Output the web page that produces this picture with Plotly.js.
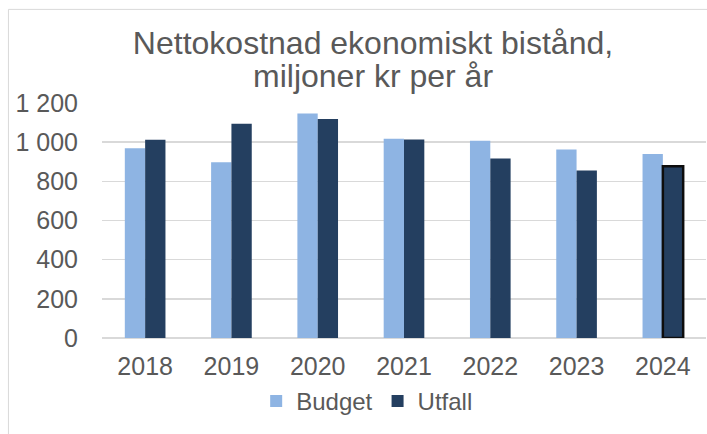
<!DOCTYPE html>
<html>
<head>
<meta charset="utf-8">
<script src="https://cdn.plot.ly/plotly-3.0.1.min.js"></script>
<style>html,body{margin:0;padding:0;background:#fff;}#chart{width:707px;height:434px;}</style>
</head>
<body>
<div id="chart"></div>
<script>
const years = ['2018', '2019', '2020', '2021', '2022', '2023', '2024'];
const budget = [969, 897, 1146, 1017, 1007, 963, 940];
const utfall = [1012, 1094, 1118, 1014, 916, 855, 877];
const seriesNames = ['Budget', 'Utfall'];
const titleLine1 = 'Nettokostnad ekonomiskt bistånd,';
const titleLine2 = 'miljoner kr per år';

const FONT = '"Liberation Sans", Arial, sans-serif';
const TXT = '#595959';

const lastIdx = years.length - 1;
const utfallLineW = years.map((_, i) => i === lastIdx ? 2.5 : 0);
const utfallLineC = years.map((_, i) => i === lastIdx ? '#0D0D0D' : '#243F60');

const data = [
  {type: 'bar', name: seriesNames[0], x: years, y: budget,
   marker: {color: '#8EB4E3', line: {width: 0}}},
  {type: 'bar', name: seriesNames[1], x: years, y: utfall,
   marker: {color: '#243F60', line: {width: utfallLineW, color: utfallLineC}}}
];

const PL = 102, PW = 603.6, PB = 337.7, PH = 234.7;
const px2x = p => (p - PL) / PW;
const px2y = p => (PB - p) / PH;

const layout = {
  width: 707, height: 434,
  margin: {l: 102, r: 1.4, t: 103, b: 96.3, pad: 0},
  paper_bgcolor: '#fff', plot_bgcolor: '#fff',
  separators: ', ',
  font: {family: FONT, color: TXT, size: 25},
  barmode: 'group', bargap: 0.529, bargroupgap: 0,
  title: {text: titleLine1, font: {family: FONT, size: 32, color: TXT},
          x: 373/707, xanchor: 'center', xref: 'container',
          y: 1 - 43/434, yanchor: 'middle', yref: 'container'},
  annotations: [
    {text: titleLine2, xref: 'paper', yref: 'paper',
     x: px2x(373), y: px2y(76), xanchor: 'center', yanchor: 'middle',
     showarrow: false, font: {family: FONT, size: 32, color: TXT}}
  ],
  shapes: [
    {type: 'rect', xref: 'paper', yref: 'paper',
     x0: px2x(8.5), x1: 1.2, y0: -1, y1: px2y(9.5),
     line: {color: '#D9D9D9', width: 1}, fillcolor: 'rgba(0,0,0,0)', layer: 'below'}
  ],
  xaxis: {type: 'category', showgrid: false, showline: false, zeroline: false,
          ticks: '', ticklabelstandoff: 11,
          tickfont: {family: FONT, size: 25, color: TXT}},
  yaxis: {range: [0, 1200], dtick: 200, tick0: 0, tickformat: ',d',
          showgrid: true, gridcolor: '#D9D9D9', gridwidth: 1.5,
          zeroline: true, zerolinecolor: '#D9D9D9', zerolinewidth: 1.5,
          showline: false, ticks: '', ticklabelstandoff: 23,
          tickfont: {family: FONT, size: 25, color: TXT}},
  showlegend: true,
  legend: {orientation: 'h', x: px2x(367), xanchor: 'center',
           y: px2y(401), yanchor: 'middle',
           font: {family: FONT, size: 24, color: TXT}, bgcolor: 'rgba(0,0,0,0)'}
};

Plotly.newPlot('chart', data, layout, {displayModeBar: false, staticPlot: true});
</script>
</body>
</html>
